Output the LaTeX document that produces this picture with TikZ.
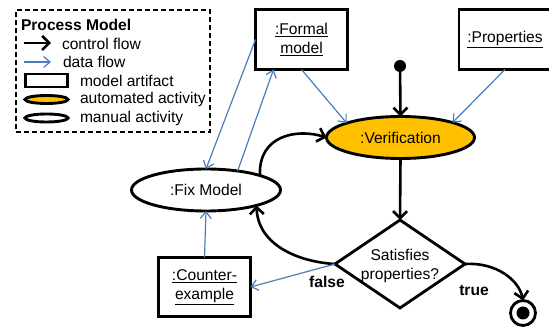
\documentclass[tikz,border=0pt]{standalone}
\usepackage{fontspec}
\setmainfont{Liberation Sans}
\usetikzlibrary{arrows.meta,shapes.geometric}
\definecolor{flowblue}{HTML}{4A7EBB}
\definecolor{autofill}{HTML}{FFC000}

\begin{document}
\begin{tikzpicture}[x=1pt,y=-1pt,
  every node/.style={font=\fontsize{15.6}{18.5}\selectfont, inner sep=0pt, outer sep=0pt},
  artifact/.style={draw, rectangle, line width=2.9pt, minimum width=92, minimum height=60, align=center},
  activity/.style={draw, ellipse, line width=2.9pt, minimum width=149, minimum height=42},
  automated/.style={activity, fill=autofill},
  decision/.style={draw, diamond, line width=2.8pt, minimum width=130, minimum height=88, aspect=1.5},
  ctrl/.style={line width=2.6pt, -{Straight Barb[length=7pt, width=14pt, line width=2.6pt]}},
  data/.style={flowblue, line width=1.2pt, -{Straight Barb[length=6.5pt, width=11pt, line width=1.2pt]}},
  legendbox/.style={draw, line width=1.3pt, dash pattern=on 5pt off 3pt},
  lbl/.style={anchor=west},
  guard/.style={font=\fontsize{15.6}{18.5}\selectfont\bfseries}
]
\useasboundingbox (0,0) rectangle (549,328);

% ---- legend ----
\node[legendbox, minimum width=194, minimum height=122] (legend) at (113,71) {};
\node[lbl, font=\fontsize{15.6}{18.5}\selectfont\bfseries] (lgtitle) at (21,25) {Process Model};
\coordinate (lgc1) at (24,43);  \coordinate (lgc2) at (51,43);
\draw[ctrl] (lgc1) -- (lgc2);
\node[lbl] (lgctrl) at (62,44) {control flow};
\coordinate (lgd1) at (24,62);  \coordinate (lgd2) at (51,62);
\draw[data] (lgd1) -- (lgd2);
\node[lbl] (lgdata) at (63,62) {data flow};
\node[draw, rectangle, line width=2.9pt, minimum width=42, minimum height=13] (lgart) at (46.5,80.5) {};
\node[lbl] (lgarttext) at (80,81) {model artifact};
\node[draw, ellipse, fill=autofill, line width=2.9pt, minimum width=43, minimum height=8] (lgauto) at (46.5,99.5) {};
\node[lbl] (lgautotext) at (80,99.5) {automated activity};
\node[draw, ellipse, line width=2.9pt, minimum width=43, minimum height=8] (lgman) at (46.5,118) {};
\node[lbl] (lgmantext) at (80,118) {manual activity};

% ---- artifacts ----
\node[artifact] (formal) at (301.5,39.5) {\underline{:Formal}\\\underline{model}};
\node[artifact] (props) at (505,39.5) {\underline{:Properties}};
\node[artifact, minimum height=59] (counter) at (204.5,287) {\underline{:Counter-}\\\underline{example}};

% ---- activities ----
\node[automated, minimum width=148] (verif) at (400.5,137.5) {:Verification};
\node[activity] (fix) at (206,190) {:Fix Model};
\node[decision] (dec) at (400,264) {};
\node[align=center] (dectext) at (400,266) {Satisfies\\properties?};

% ---- initial and final states ----
\node[circle, fill, minimum size=12] (start) at (400,66) {};
\node[circle, draw, line width=2.8pt, minimum size=25] (stop) at (523,313) {};
\node[circle, fill, minimum size=13] (stopdot) at (stop.center) {};

% ---- control flow ----
\draw[ctrl] (start) -- (verif.north);
\draw[ctrl] (verif.south) -- (dec.north);
\draw[ctrl] (dec.west) .. controls (300,262) and (258,246) .. (fix.-17);
\draw[ctrl] (fix.15) .. controls (258,136) and (296,128) .. (verif.west);
\draw[ctrl] (dec.east) .. controls (496,262) and (519,280) .. (stop.north);

% ---- data flow ----
\draw[data] (formal.west) -- (fix.north);
\draw[data] (fix.31) -- (formal.-133);
\draw[data] (formal.south) -- (verif.165);
\draw[data] (props.south) -- (verif.16);
\draw[data] (counter.north) -- (fix.south);
\draw[data] (dec.west) -- (counter.east);

% ---- guards ----
\node[guard] (gfalse) at (327,282) {false};
\node[guard] (gtrue) at (474,290) {true};
\end{tikzpicture}
\end{document}
